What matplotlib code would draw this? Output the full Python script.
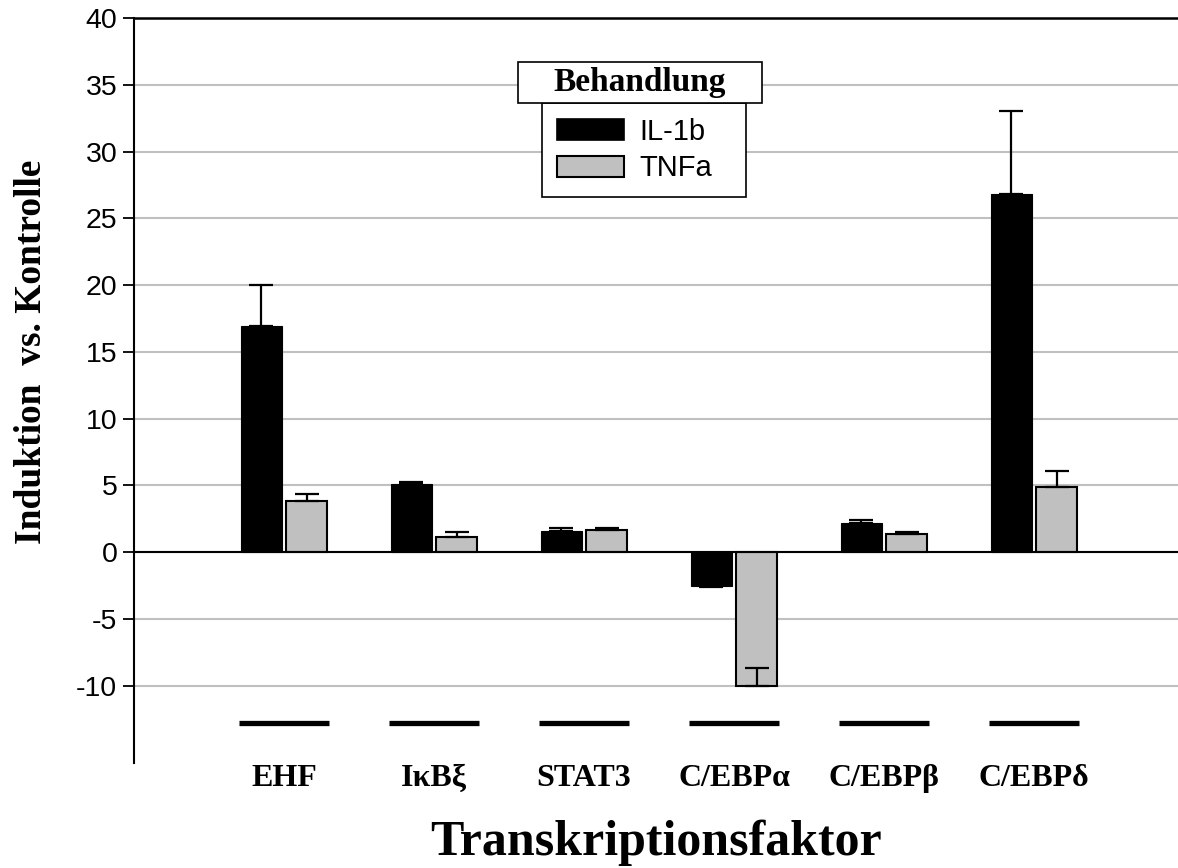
import matplotlib
matplotlib.use("Agg")
import matplotlib.pyplot as plt
from matplotlib.patches import Rectangle, Patch
import numpy as np

# --- data -------------------------------------------------------------
categories = ["EHF", "IκBξ", "STAT3", "C/EBPα", "C/EBPβ", "C/EBPδ"]
series_names = ["IL-1b", "TNFa"]
il1b = [16.9, 5.12, 1.57, -2.52, 2.15, 26.8]
tnfa = [3.85, 1.15, 1.62, -10.0, 1.32, 4.89]
il1b_err_low = [0.0, 0.0, 0.0, 0.08, 0.0, 0.0]
il1b_err_high = [3.1, 0.15, 0.25, 0.0, 0.25, 6.2]
tnfa_err_low = [0.0, 0.0, 0.0, 0.0, 0.0, 0.0]
tnfa_err_high = [0.47, 0.37, 0.2, 1.3, 0.15, 1.18]
y_ticks = [-10, -5, 0, 5, 10, 15, 20, 25, 30, 35, 40]
underline_level = -12.8

W, H = 1178, 868
fig = plt.figure(figsize=(W / 100, H / 100), dpi=100)
ax = fig.add_axes([134 / W, 1 - 763 / H, (W - 134) / W, (763 - 18) / H])

serif = ["Liberation Serif", "DejaVu Serif"]
sans = ["Liberation Sans", "DejaVu Sans"]

x = np.arange(len(categories))
bw = 0.273
off = 0.151

ax.bar(x - off, il1b, bw, color="black", edgecolor="black", linewidth=0.8, zorder=3)
ax.bar(x + off, tnfa, bw, color="#c0c0c0", edgecolor="black", linewidth=1.5, zorder=3)

ekw = dict(fmt="none", ecolor="black", elinewidth=1.6, capsize=8.3, capthick=1.6, zorder=4)
ax.errorbar(x - off, il1b, yerr=[il1b_err_low, il1b_err_high], **ekw)
ax.errorbar(x + off, tnfa, yerr=[tnfa_err_low, tnfa_err_high], **ekw)

# category underlines
ax.hlines([underline_level] * len(x), x - 0.3, x + 0.3, colors="black",
          linewidth=3.8, zorder=3)

# axes styling
ax.set_xlim(-1, 5.96)
ax.set_ylim(-15.8, 40)
ax.set_yticks(y_ticks)
ax.set_yticklabels([str(t) for t in y_ticks], family=sans, fontsize=20.5)
ax.tick_params(axis="y", direction="out", length=8, width=1.3, pad=4)
ax.yaxis.grid(True, color="#c0c0c0", linewidth=1.5, zorder=0)
ax.set_axisbelow(True)
ax.axhline(0, color="black", linewidth=1.5, zorder=5)

ax.set_xticks(x)
ax.set_xticklabels(categories, family=serif, fontweight="bold", fontsize=23)
ax.tick_params(axis="x", length=0, pad=1)

for side in ("right", "bottom"):
    ax.spines[side].set_visible(False)
ax.spines["left"].set_linewidth(1.5)
ax.spines["top"].set_linewidth(1.8)

ax.set_xlabel("Transkriptionsfaktor", family=serif, fontweight="bold",
              fontsize=36, labelpad=19)
ax.set_ylabel("Induktion  vs. Kontrolle", family=serif, fontweight="bold",
              fontsize=27, va="center")
ax.yaxis.set_label_coords(-0.0985, 0.552)

# legend
handles = [Patch(facecolor="black", edgecolor="black", linewidth=1.2),
           Patch(facecolor="#c0c0c0", edgecolor="black", linewidth=1.5)]
leg = ax.legend(handles, series_names, loc="upper left",
                bbox_to_anchor=(542 / W, 1 - 103 / H, (746 - 542) / W, 0),
                bbox_transform=fig.transFigure, mode="expand",
                frameon=True, fancybox=False, edgecolor="black",
                framealpha=1, borderaxespad=0, borderpad=0.5,
                handlelength=2.3, handleheight=0.72, handletextpad=0.55,
                labelspacing=0.3, prop=dict(family=sans, size=21))
leg.get_frame().set_linewidth(1.2)
leg.set_zorder(10)

# legend title box
tb = Rectangle((518 / W, 1 - 103 / H), (762 - 518) / W, 41 / H,
               transform=fig.transFigure, facecolor="white", edgecolor="black",
               linewidth=1.2, zorder=11)
fig.patches.append(tb)
fig.text(640 / W, 1 - 83 / H, "Behandlung", family=serif, fontweight="bold",
         fontsize=24, ha="center", va="center", zorder=12)

fig.savefig("out.png", dpi=100)
